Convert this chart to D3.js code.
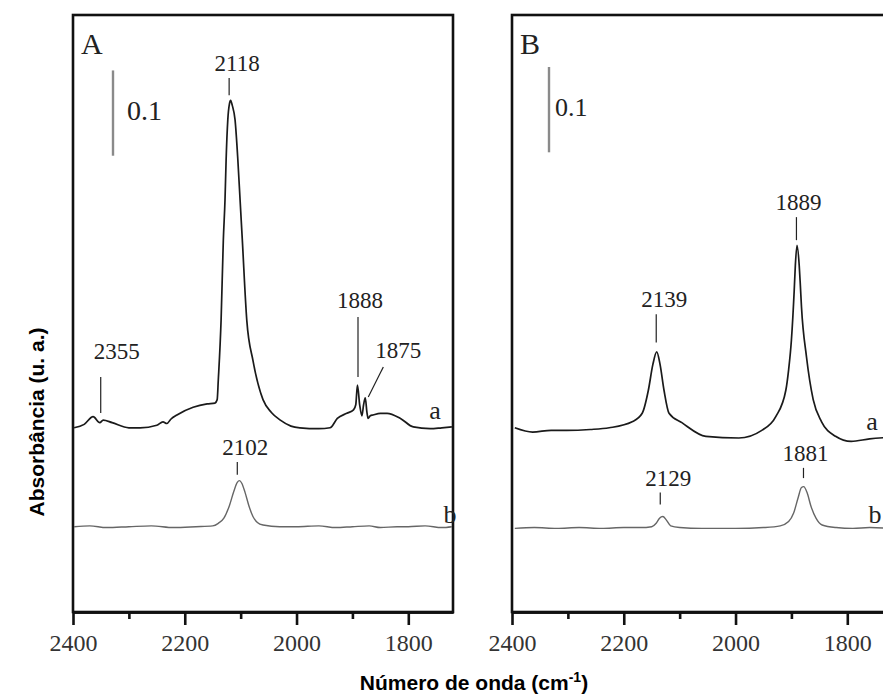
<!DOCTYPE html>
<html>
<head>
<meta charset="utf-8">
<script src="https://cdn.jsdelivr.net/npm/d3@7"></script>
<style>
body { margin: 0; background: #fff; }
svg { display: block; }
.frame { fill: none; stroke: #111; stroke-width: 2.6; }
.axis path { stroke: #111; stroke-width: 2.6; }
.axis line { stroke: #111; stroke-width: 2.6; }
.curveA { fill: none; stroke: #1a1a1a; stroke-width: 1.7; }
.curveB { fill: none; stroke: #666; stroke-width: 1.4; }
.lbl { font-family: "Liberation Serif", serif; font-size: 23px; fill: #222; }
.ticklbl { font-family: "Liberation Serif", serif; font-size: 24px; fill: #333; }
.mark { stroke: #222; stroke-width: 1.2; }
</style>
</head>
<body>
<div class="container"></div>
<script>
// wavenumber (cm-1) and absorbance
var wnA_a  = [2398,2380,2364,2352,2346,2330,2300,2280,2250,2239,2232,2225,2214,2185,2160,2146,2142,2140,2135,2131,2128,2126,2123,2120,2118,2115,2110,2105,2101,2097,2089,2078,2060,2045,2029,2010,1994,1960,1940,1927,1910,1898,1894,1891,1887,1883,1880,1877,1874,1872,1868,1863,1850,1838,1814,1791,1761,1740,1722];
var absA_a = [0.216,0.220,0.229,0.222,0.225,0.222,0.216,0.216,0.219,0.223,0.221,0.226,0.231,0.240,0.244,0.245,0.249,0.272,0.342,0.436,0.483,0.530,0.577,0.596,0.600,0.594,0.577,0.530,0.483,0.436,0.342,0.295,0.249,0.234,0.225,0.218,0.216,0.215,0.216,0.227,0.233,0.237,0.243,0.266,0.243,0.230,0.243,0.251,0.234,0.227,0.230,0.231,0.233,0.233,0.227,0.217,0.215,0.216,0.217];

var wnA_b  = [2398,2370,2340,2300,2260,2220,2180,2150,2140,2130,2120,2112,2106,2102,2098,2092,2085,2078,2070,2060,2030,2000,1960,1930,1900,1870,1850,1820,1800,1770,1740,1722];
var absA_b = [0.100,0.101,0.099,0.100,0.101,0.099,0.100,0.101,0.104,0.110,0.125,0.142,0.152,0.154,0.151,0.140,0.124,0.112,0.105,0.102,0.100,0.100,0.101,0.099,0.100,0.101,0.099,0.100,0.100,0.101,0.099,0.100];

var wnB_a  = [2395,2363,2330,2302,2260,2226,2185,2167,2156,2148,2141,2135,2128,2119,2096,2053,1994,1953,1928,1910,1905,1900,1895,1893,1890,1886,1884,1882,1873,1861,1846,1821,1793,1760,1720];
var absB_a = [0.216,0.211,0.213,0.213,0.214,0.216,0.223,0.233,0.260,0.290,0.305,0.290,0.260,0.233,0.222,0.206,0.204,0.213,0.229,0.260,0.284,0.319,0.377,0.406,0.430,0.406,0.383,0.358,0.299,0.249,0.223,0.206,0.200,0.203,0.205];

var wnB_b  = [2395,2360,2320,2280,2240,2200,2170,2150,2142,2136,2130,2124,2116,2100,2060,2000,1950,1920,1905,1896,1888,1882,1878,1872,1865,1856,1845,1820,1790,1760,1720];
var absB_b = [0.098,0.099,0.098,0.099,0.098,0.099,0.099,0.100,0.104,0.110,0.112,0.108,0.101,0.099,0.098,0.098,0.099,0.101,0.106,0.116,0.134,0.146,0.147,0.140,0.124,0.110,0.102,0.099,0.098,0.099,0.098];

var xTicks = [2400, 2200, 2000, 1800];
var xMinor = [2300, 2100, 1900];

// peak annotations: label, wavenumber, marker top / bottom absorbance
var peaksA = [["2118",2120.6,0.626,0.606],["2355",2350.4,0.2755,0.2333],["1888",1890,0.346,0.2755],["2102",2106,0.176,0.161]];
var peaksB = [["2139",2141.9,0.349,0.316],["1889",1891,0.463,0.436],["1881",1878.4,0.169,0.157],["2129",2134.7,0.140,0.126]];

const WIDTH = 883;
const HEIGHT = 697;
const TOP = 15;
const BOTTOM = 612;
const PANEL_W = 380;

var svg = d3.select('.container').append('svg')
	.attr('width', WIDTH)
	.attr('height', HEIGHT);

var yScale = d3.scaleLinear().domain([0, 0.7]).range([BOTTOM, TOP]);

var drawPanel = function(left, letter, curveA, curveB, peaks, barTop, lblA, lblB){
	var x = d3.scaleLinear().domain([2400, 1720]).range([left, left + PANEL_W]);

	svg.append('rect').attr('class', 'frame')
		.attr('x', left).attr('y', TOP)
		.attr('width', PANEL_W).attr('height', BOTTOM - TOP);

	var ax = svg.append('g').attr('class', 'axis')
		.attr('transform', 'translate(0,' + BOTTOM + ')');
	ax.call(d3.axisBottom(x).tickValues(xTicks).tickSize(13).tickSizeOuter(0).tickPadding(9).tickFormat(d3.format('d')));
	ax.attr('font-family', null).attr('font-size', null);
	ax.selectAll('.tick text').attr('class', 'ticklbl');

	svg.append('g').attr('class', 'axis')
		.attr('transform', 'translate(0,' + BOTTOM + ')')
		.call(d3.axisBottom(x).tickValues(xMinor).tickSize(7).tickSizeOuter(0).tickFormat(''));

	var line = d3.line()
		.x(function(d){ return x(d[0]); })
		.y(function(d){ return yScale(d[1]); })
		.curve(d3.curveMonotoneX);

	svg.append('path').attr('class', 'curveA')
		.attr('d', line(d3.zip(curveA[0], curveA[1])));
	svg.append('path').attr('class', 'curveB')
		.attr('d', line(d3.zip(curveB[0], curveB[1])));

	// panel letter
	svg.append('text').attr('class', 'lbl')
		.attr('x', left + 8).attr('y', 54)
		.style('font-size', '30px')
		.text(letter);

	// 0.1 scale bar
	var bx = left + (letter == 'A' ? 40 : 37);
	svg.append('line')
		.attr('x1', bx).attr('x2', bx)
		.attr('y1', yScale(barTop)).attr('y2', yScale(barTop - 0.1))
		.attr('stroke', '#8a8a8a').attr('stroke-width', 2.4);
	svg.append('text').attr('class', 'lbl')
		.attr('x', bx + (letter == 'A' ? 14 : 6))
		.attr('y', yScale(barTop - 0.058))
		.style('font-size', letter == 'A' ? '28px' : '26px')
		.text('0.1');

	// peak markers and labels
	peaks.forEach(function(p){
		var px = x(p[1]);
		svg.append('line').attr('class', 'mark')
			.attr('x1', px).attr('x2', px)
			.attr('y1', yScale(p[2])).attr('y2', yScale(p[3]));
		svg.append('text').attr('class', 'lbl')
			.attr('text-anchor', 'middle')
			.attr('x', px + (p[0] == '2355' ? 16 : p[0] == '1888' || p[0] == '1889' || p[0] == '1881' ? 2 : 8))
			.attr('y', yScale(p[2]) - (p[0] == '2355' ? 18 : p[0] == '1888' ? 9 : 7))
			.text(p[0]);
	});

	// trace letters
	svg.append('text').attr('class', 'lbl').style('font-size', '26px')
		.attr('text-anchor', 'middle')
		.attr('x', lblA[0]).attr('y', lblA[1]).text('a');
	svg.append('text').attr('class', 'lbl').style('font-size', '26px')
		.attr('text-anchor', 'middle')
		.attr('x', lblB[0]).attr('y', lblB[1]).text('b');

	return x;
};

var xA = drawPanel(73, 'A', [wnA_a, absA_a], [wnA_b, absA_b], peaksA, 0.635, [435, 419], [450, 523]);
var xB = drawPanel(512, 'B', [wnB_a, absB_a], [wnB_b, absB_b], peaksB, 0.639, [872, 430], [875, 523]);

// slanted pointer for 1875 shoulder
svg.append('line').attr('class', 'mark')
	.attr('x1', xA(1844.7)).attr('y1', yScale(0.2872))
	.attr('x2', xA(1871.6)).attr('y2', yScale(0.2521));
svg.append('text').attr('class', 'lbl')
	.attr('text-anchor', 'middle')
	.attr('x', xA(1844.7) + 15).attr('y', yScale(0.2872) - 9)
	.text('1875');

// axis titles
svg.append('text')
	.attr('x', 474).attr('y', 690)
	.attr('text-anchor', 'middle')
	.style('font-family', '"Liberation Sans", Arial, sans-serif')
	.style('font-weight', 'bold').style('font-size', '21px')
	.html('Número de onda (cm<tspan dy="-8" font-size="14px">-1</tspan><tspan dy="8">)</tspan>');

svg.append('text')
	.attr('transform', 'translate(44,422) rotate(-90)')
	.attr('text-anchor', 'middle')
	.style('font-family', '"Liberation Sans", Arial, sans-serif')
	.style('font-weight', 'bold').style('font-size', '21px')
	.text('Absorbância (u. a.)');
</script>
</body>
</html>
